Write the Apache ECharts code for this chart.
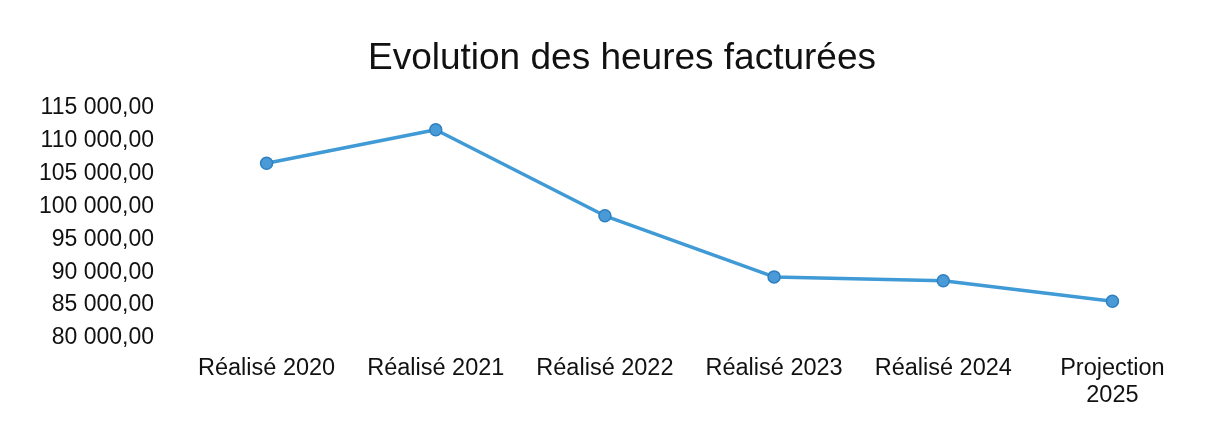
<!DOCTYPE html>
<html>
<head>
<meta charset="utf-8">
<script src="https://cdn.jsdelivr.net/npm/echarts@6/dist/echarts.min.js"></script>
<style>
  html, body { margin: 0; padding: 0; background: #fff; }
  #chart { width: 1220px; height: 422px; }
</style>
</head>
<body>
<div id="chart"></div>
<script>
// catégories et valeurs
const categories = ['Réalisé 2020', 'Réalisé 2021', 'Réalisé 2022', 'Réalisé 2023', 'Réalisé 2024', 'Projection\n2025']
const heuresFacturees = [106600, 111700, 98600, 89300, 88700, 85600]
const yTicks = [80000, 85000, 90000, 95000, 100000, 105000, 110000, 115000]

// format français : 115 000,00
const formatFr = (v) => {
  const parts = v.toFixed(2).split('.')
  return parts[0].replace(/\B(?=(\d{3})+(?!\d))/g, ' ') + ',' + parts[1]
}

const myChart = echarts.init(document.getElementById('chart'))
const font = 'Liberation Sans, Arial, sans-serif'

const option = {
  animation: false,
  title: {
    text: 'Evolution des heures facturées',
    left: 617,
    textAlign: 'center',
    top: 35,
    textStyle: { fontFamily: font, fontSize: 37, fontWeight: 'normal', color: '#111' },
  },
  grid: { left: 182, right: 23, top: 108, bottom: 84 },
  xAxis: {
    type: 'category',
    data: categories,
    boundaryGap: true,
    axisLine: { show: false },
    axisTick: { show: false },
    axisLabel: {
      fontFamily: font,
      fontSize: 23.5,
      color: '#111',
      margin: 17,
      lineHeight: 27,
      interval: 0,
    },
  },
  yAxis: {
    type: 'value',
    min: yTicks[0],
    max: yTicks[yTicks.length - 1],
    interval: 5000,
    axisLine: { show: false },
    axisTick: { show: false },
    splitLine: { show: false },
    axisLabel: {
      fontFamily: font,
      fontSize: 23,
      color: '#111',
      margin: 28,
      formatter: formatFr,
    },
  },
  series: [
    {
      name: 'Heures facturées',
      type: 'line',
      data: heuresFacturees,
      symbol: 'circle',
      symbolSize: 12,
      lineStyle: { color: '#3f9ad6', width: 3.5 },
      itemStyle: { color: '#4a9ad8', borderColor: '#2f80c0', borderWidth: 1.5 },
    },
  ],
}

myChart.setOption(option)
</script>
</body>
</html>
